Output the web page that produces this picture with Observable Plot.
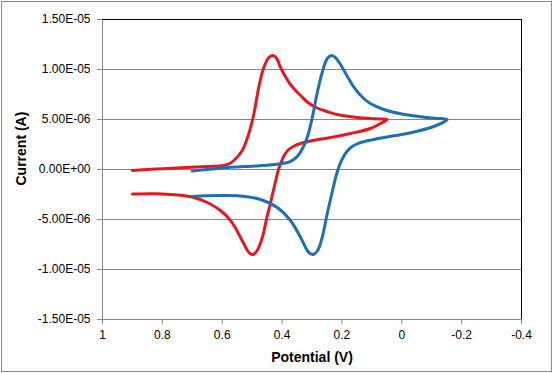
<!DOCTYPE html>
<html><head><meta charset="utf-8">
<script src="https://cdn.jsdelivr.net/npm/d3@7"></script>
<script src="https://cdn.jsdelivr.net/npm/@observablehq/plot@0.6"></script>
<style>body{margin:0;background:#fff} #chart svg{display:block}</style>
</head><body><div id="chart"></div>
<script>
// Potential (V) and current (in 1e-6 A) for each cyclic voltammogram, in scan order
const redV = [0.9, 0.82, 0.739, 0.65, 0.595, 0.575, 0.561, 0.533, 0.511, 0.494, 0.478, 0.461, 0.444, 0.430, 0.418, 0.405, 0.389, 0.372, 0.355, 0.338, 0.316, 0.283, 0.25, 0.216, 0.149, 0.105, 0.075, 0.049,
  0.071, 0.105, 0.171, 0.238, 0.305, 0.338, 0.36, 0.378, 0.392, 0.402, 0.411, 0.422, 0.439, 0.450, 0.466, 0.483, 0.496, 0.507, 0.517, 0.528, 0.539, 0.55, 0.561, 0.572, 0.606, 0.65, 0.695, 0.75, 0.82, 0.9];
const redI = [-0.1, 0.05, 0.17, 0.3, 0.4, 0.6, 0.9, 1.9, 3.6, 5.6, 8.2, 10.2, 11.2, 11.4, 11.1, 10.2, 9.3, 8.5, 7.9, 7.4, 6.75, 6.15, 5.8, 5.5, 5.2, 5.1, 5.05, 5.0,
  4.6, 4.1, 3.6, 3.2, 2.85, 2.6, 2.35, 2.0, 1.45, 0.8, 0.1, -1.2, -3.4, -4.7, -6.8, -8.1, -8.5, -8.4, -8.05, -7.4, -6.8, -6.15, -5.6, -5.1, -4.1, -3.3, -2.8, -2.55, -2.42, -2.45];
const blueV = [0.7, 0.65, 0.572, 0.5, 0.45, 0.405, 0.38, 0.361, 0.345, 0.33, 0.316, 0.299, 0.283, 0.266, 0.249, 0.235, 0.224, 0.21, 0.195, 0.18, 0.166, 0.149, 0.127, 0.105, 0.06, 0.0, -0.062, -0.11, -0.152,
  -0.107, -0.018, 0.05, 0.094, 0.125, 0.15, 0.17, 0.186, 0.198, 0.207, 0.214, 0.221, 0.232, 0.249, 0.266, 0.281, 0.296, 0.306, 0.316, 0.338, 0.372, 0.416, 0.472, 0.539, 0.6, 0.65, 0.7];
const blueI = [-0.15, 0.0, 0.22, 0.33, 0.42, 0.57, 0.72, 1.0, 1.45, 2.2, 3.2, 5.2, 7.6, 9.7, 11.1, 11.4, 11.25, 10.75, 10.0, 9.2, 8.5, 7.8, 7.1, 6.6, 6.0, 5.55, 5.28, 5.12, 5.0,
  4.3, 3.6, 3.25, 3.0, 2.8, 2.55, 2.2, 1.7, 1.1, 0.5, -0.1, -0.8, -2.2, -4.4, -6.8, -8.1, -8.5, -8.4, -8.1, -6.8, -5.1, -3.8, -3.0, -2.65, -2.6, -2.62, -2.7];

const xTicks = [1, 0.8, 0.6, 0.4, 0.2, 0, -0.2, -0.4];
const xTickLabels = ["1", "0.8", "0.6", "0.4", "0.2", "0", "-0.2", "-0.4"];
const yTicks = [-1.5e-5, -1.0e-5, -5e-6, 0, 5e-6, 1.0e-5, 1.5e-5];
const yTickLabels = ["-1.50E-05", "-1.00E-05", "-5.00E-06", "0.00E+00", "5.00E-06", "1.00E-05", "1.50E-05"];
const xTitle = "Potential (V)";
const yTitle = "Current (A)";

const red = redV.map((v, k) => ({v, i: redI[k] * 1e-6}));
const blue = blueV.map((v, k) => ({v, i: blueI[k] * 1e-6}));
const xFmt = d => xTickLabels[xTicks.findIndex(t => Math.abs(t - d) < 1e-9)];
const yFmt = d => yTickLabels[yTicks.findIndex(t => Math.abs(t - d) < 1e-12)];
const grey = "#868686";

const chart = Plot.plot({
  width: 553, height: 373,
  marginLeft: 102, marginRight: 32, marginTop: 19, marginBottom: 54,
  style: {fontFamily: "'Liberation Sans', Arial, sans-serif", fontSize: "12px", color: "#000", background: "#fff"},
  x: {domain: [1, -0.4]},
  y: {domain: [-1.5e-5, 1.5e-5]},
  marks: [
    Plot.gridY(yTicks, {stroke: grey, strokeOpacity: 1}),
    Plot.ruleX([1], {stroke: grey}),
    Plot.ruleY([-1.5e-5], {stroke: grey}),
    Plot.ruleY([1.5e-5], {stroke: "#000"}),
    Plot.ruleX([-0.4], {stroke: "#000"}),
    Plot.axisX(xTicks, {tickSize: 5, tickPadding: 6, tickFormat: xFmt, stroke: grey, fill: "#000", label: null}),
    Plot.axisY(yTicks, {tickSize: 5, tickPadding: 7, tickFormat: yFmt, stroke: grey, fill: "#000", label: null}),
    Plot.line(red, {x: "v", y: "i", stroke: "#e01a1f", strokeWidth: 3, curve: "catmull-rom"}),
    Plot.line(blue, {x: "v", y: "i", stroke: "#1f6fb4", strokeWidth: 3, curve: "catmull-rom"}),
    Plot.text([xTitle], {frameAnchor: "bottom", dy: 38, lineAnchor: "middle", fontSize: 14, fontWeight: "bold", fill: "#000"}),
    Plot.text([yTitle], {frameAnchor: "left", dx: -81, dy: 16, rotate: -90, lineAnchor: "middle", fontSize: 14, fontWeight: "bold", fill: "#000"})
  ]
});
chart.style.outline = "1px solid #8a8a8a";
chart.style.outlineOffset = "-2px";
document.getElementById("chart").append(chart);
</script>
</body></html>
